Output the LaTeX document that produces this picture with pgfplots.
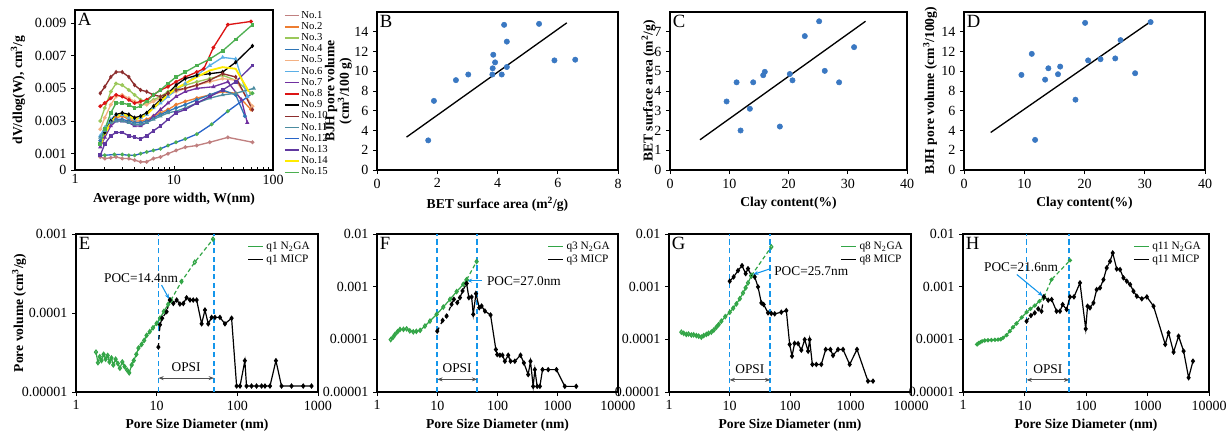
\documentclass[border=0pt]{standalone}
\usepackage{pgfplots}
\pgfplotsset{compat=1.18}
\usepackage{fontspec}
\setmainfont{Liberation Serif}
\usetikzlibrary{arrows.meta}
\definecolor{c1}{RGB}{192,128,128}
\definecolor{c2}{RGB}{237,125,49}
\definecolor{c3}{RGB}{155,200,90}
\definecolor{c4}{RGB}{46,117,182}
\definecolor{c5}{RGB}{244,177,131}
\definecolor{c6}{RGB}{91,175,230}
\definecolor{c7}{RGB}{112,48,160}
\definecolor{c8}{RGB}{220,20,20}
\definecolor{c9}{RGB}{0,0,0}
\definecolor{c10}{RGB}{140,45,45}
\definecolor{c11}{RGB}{75,140,160}
\definecolor{c12}{RGB}{40,100,200}
\definecolor{c13}{RGB}{96,56,160}
\definecolor{c14}{RGB}{255,235,0}
\definecolor{c15}{RGB}{76,175,80}
\definecolor{dotblue}{RGB}{58,120,194}
\definecolor{ngreen}{RGB}{50,165,70}
\definecolor{lblue}{RGB}{20,150,235}
\definecolor{agray}{RGB}{80,80,80}
\pgfplotsset{
  panel/.style={
    scale only axis, anchor=south west,
    axis line style={line width=0.9pt},
    every tick/.style={black, line width=0.6pt},
    tick align=outside, tick pos=left,
    major tick length=3pt, minor tick length=2pt,
    tick label style={font=\fontsize{10.5}{11}\selectfont},
    label style={font=\bfseries\fontsize{10.2}{11}\selectfont},
    /pgf/number format/assume math mode=true,
    scaled ticks=false,
  },
  dots/.style={only marks, mark=*, mark size=2pt, color=dotblue},
  trend/.style={black, line width=1pt, no marks},
  aser/.style={line width=1pt, mark size=0.9pt, mark options={solid}},
}
\newcommand{\plab}[1]{\node[anchor=north west, inner sep=2pt, font=\fontsize{14}{14}\selectfont] at (rel axis cs:0,1) {#1};}
\newcommand{\opsi}[3]{%
  \draw[color=agray, <->, >={Stealth[length=4pt]}, line width=0.6pt] (axis cs:#1,#3) -- (axis cs:#2,#3);}
\newcommand{\vl}[3]{%
  \addplot[color=lblue, dash pattern=on 4pt off 2.5pt, line width=1.3pt, no marks, forget plot] coordinates {(#1,#2)(#1,#3)};}
\begin{document}
\begin{tikzpicture}[x=0.75pt,y=0.75pt]
\useasboundingbox (0,0) rectangle (1228,433);
\coordinate (pA) at (75,263);
\coordinate (pB) at (377,263);
\coordinate (pC) at (670,263);
\coordinate (pD) at (964,263);
\coordinate (pE) at (76,41);
\coordinate (pF) at (377,41);
\coordinate (pG) at (669,41);
\coordinate (pH) at (963,41);

% ---------------- A ----------------
\begin{axis}[panel, at={(pA)}, width=148.5pt, height=120pt,
  xmode=log, xmin=1, xmax=100, ymin=0, ymax=0.0098,
  xtick={1,10,100}, xticklabels={1,10,100},
  ytick={0,0.001,0.003,0.005,0.007,0.009}, yticklabels={0,0.001,0.003,0.005,0.007,0.009},
  xtick align=inside,
  xlabel={Average pore width, W(nm)}, ylabel={dV/dlog(W), cm\textsuperscript{3}/g},
  ylabel style={at={(rel axis cs:-0.288,0.5)}, anchor=center},
  legend style={at={(1.035,1.015)}, anchor=north west, draw=none, fill=none,
    font=\fontsize{8}{8}\selectfont, row sep=0.6pt, nodes={inner ysep=0.5pt, inner xsep=1.2pt}},
  legend cell align=left,
  legend image code/.code={\draw[#1, mark=none, line width=1.1pt] (0cm,0cm) -- (0.37cm,0cm);},
]
\plab{A}
\addplot[aser, c1, mark=*] coordinates {(1.8,0.0008)(2.0,0.0007)(2.3,0.00075)(2.6,0.0008)(3.0,0.0007)(3.5,0.0007)(4.0,0.0006)(4.6,0.0005)(5.3,0.0005)(6.2,0.0007)(7.3,0.0008)(8.7,0.001)(10.5,0.0012)(13,0.0014)(17,0.0015)(23,0.0017)(35,0.002)(62,0.0017)};
\addlegendentry{No.1}
\addplot[aser, c2, mark=*] coordinates {(1.8,0.0017)(2.0,0.0024)(2.3,0.003)(2.6,0.0032)(3.0,0.0033)(3.5,0.0031)(4.0,0.003)(4.6,0.003)(5.3,0.0031)(6.2,0.0033)(7.3,0.0035)(8.7,0.0037)(10.5,0.004)(13,0.0042)(17,0.0044)(23,0.0046)(31,0.0048)(42,0.0047)(60,0.0037)};
\addlegendentry{No.2}
\addplot[aser, c3, mark=*] coordinates {(1.8,0.003)(2.0,0.0038)(2.3,0.0048)(2.6,0.0053)(3.0,0.0052)(3.5,0.0049)(4.0,0.0046)(4.6,0.0043)(5.3,0.0041)(6.2,0.0043)(7.3,0.0045)(8.7,0.0048)(10.5,0.005)(13,0.0052)(17,0.0054)(23,0.0056)(31,0.0058)(42,0.0055)(60,0.0047)};
\addlegendentry{No.3}
\addplot[aser, c4, mark=*] coordinates {(1.8,0.0018)(2.0,0.0024)(2.3,0.003)(2.6,0.0031)(3.0,0.0031)(3.5,0.003)(4.0,0.0029)(4.6,0.0029)(5.3,0.003)(6.2,0.0032)(7.3,0.0034)(8.7,0.0036)(10.5,0.0038)(13,0.004)(17,0.0043)(23,0.0046)(31,0.0049)(42,0.0046)(52,0.0033)};
\addlegendentry{No.4}
\addplot[aser, c5, mark=*] coordinates {(1.8,0.0025)(2.0,0.0032)(2.3,0.004)(2.6,0.0045)(3.0,0.0046)(3.5,0.0044)(4.0,0.0042)(4.6,0.004)(5.3,0.004)(6.2,0.0042)(7.3,0.0044)(8.7,0.0046)(10.5,0.0048)(13,0.005)(17,0.0052)(23,0.0054)(31,0.0056)(42,0.0055)(62,0.0039)};
\addlegendentry{No.5}
\addplot[aser, c6, mark=triangle*] coordinates {(1.8,0.0021)(2.0,0.0026)(2.3,0.0031)(2.6,0.0034)(3.0,0.0034)(3.5,0.0032)(4.0,0.0031)(4.6,0.0032)(5.3,0.0034)(6.2,0.0038)(7.3,0.0041)(8.7,0.0045)(10.5,0.0049)(13,0.0053)(17,0.0058)(23,0.0064)(31,0.0069)(42,0.0068)(55,0.0045)};
\addlegendentry{No.6}
\addplot[aser, c7, mark=triangle*] coordinates {(1.8,0.0014)(2.0,0.002)(2.3,0.0027)(2.6,0.003)(3.0,0.003)(3.5,0.0029)(4.0,0.0027)(4.6,0.0027)(5.3,0.0029)(6.2,0.0033)(7.3,0.0037)(8.7,0.0041)(10.5,0.0045)(13,0.0048)(17,0.005)(25,0.0051)(35,0.0054)(48,0.0043)(55,0.0029)};
\addlegendentry{No.7}
\addplot[aser, c8, mark=*] coordinates {(1.8,0.0039)(2.0,0.0041)(2.3,0.0044)(2.6,0.0046)(3.0,0.0045)(3.5,0.0043)(4.0,0.0041)(4.6,0.0042)(5.3,0.0043)(6.2,0.0046)(7.3,0.0049)(8.7,0.0051)(10.5,0.0054)(13,0.0057)(17,0.006)(20,0.0062)(25,0.0075)(35,0.0089)(60,0.0091)};
\addlegendentry{No.8}
\addplot[aser, c9, mark=diamond*] coordinates {(1.8,0.0016)(2.0,0.0023)(2.3,0.003)(2.6,0.0034)(3.0,0.0035)(3.5,0.0034)(4.0,0.0032)(4.6,0.0033)(5.3,0.0035)(6.2,0.0039)(7.3,0.0043)(8.7,0.0047)(10.5,0.0052)(13,0.0056)(17,0.0058)(23,0.0059)(31,0.006)(42,0.0066)(62,0.0076)};
\addlegendentry{No.9}
\addplot[aser, c10, mark=diamond*] coordinates {(1.8,0.0047)(2.0,0.0051)(2.3,0.0057)(2.6,0.006)(3.0,0.006)(3.5,0.0057)(4.0,0.0052)(4.6,0.0049)(5.3,0.0048)(6.2,0.0046)(7.3,0.0045)(8.7,0.0047)(10.5,0.0049)(13,0.005)(17,0.0052)(23,0.0055)(31,0.0059)(42,0.0057)(62,0.0037)};
\addlegendentry{No.10}
\addplot[aser, c11, mark=triangle*] coordinates {(1.8,0.002)(2.0,0.0024)(2.3,0.0029)(2.6,0.003)(3.0,0.003)(3.5,0.0029)(4.0,0.0028)(4.6,0.0028)(5.3,0.0029)(6.2,0.0031)(7.3,0.0033)(8.7,0.0035)(10.5,0.0036)(13,0.0038)(17,0.0041)(23,0.0044)(31,0.0046)(42,0.0047)(64,0.005)};
\addlegendentry{No.11}
\addplot[aser, c12, mark=*, mark options={fill=c15, draw=c15}] coordinates {(1.8,0.0009)(2.0,0.0009)(2.5,0.00095)(3.0,0.00095)(3.5,0.0009)(4.0,0.0009)(4.6,0.001)(5.3,0.0011)(6.2,0.0012)(7.3,0.0013)(8.7,0.0015)(10.5,0.0017)(13,0.0019)(17,0.0022)(24,0.0028)(35,0.0036)(62,0.0047)};
\addlegendentry{No.12}
\addplot[aser, c13, mark=square*] coordinates {(1.8,0.0009)(2.0,0.0016)(2.3,0.0021)(2.6,0.0023)(3.0,0.0023)(3.5,0.0021)(4.0,0.002)(4.6,0.0019)(5.3,0.0021)(6.2,0.0024)(7.3,0.0027)(8.7,0.0031)(10.5,0.0035)(13,0.0037)(17,0.0041)(23,0.0045)(31,0.0049)(42,0.0054)(62,0.0064)};
\addlegendentry{No.13}
\addplot[aser, c14, line width=1.4pt, mark=none] coordinates {(1.8,0.0015)(2.0,0.0022)(2.3,0.0029)(2.6,0.0033)(3.0,0.0034)(3.5,0.0033)(4.0,0.0031)(4.6,0.0032)(5.3,0.0034)(6.2,0.0038)(7.3,0.0042)(8.7,0.0046)(10.5,0.005)(13,0.0053)(17,0.0057)(23,0.0061)(31,0.0063)(42,0.0062)(57,0.0048)};
\addlegendentry{No.14}
\addplot[aser, c15, mark=square*] coordinates {(1.8,0.0016)(2.0,0.0025)(2.3,0.0035)(2.6,0.0041)(3.0,0.0041)(3.5,0.004)(4.0,0.0038)(4.6,0.0039)(5.3,0.0042)(6.2,0.0046)(7.3,0.0049)(8.7,0.0053)(10.5,0.0057)(13,0.006)(17,0.0064)(23,0.0068)(31,0.0073)(42,0.008)(62,0.0089)};
\addlegendentry{No.15}
\end{axis}

% ---------------- B ----------------
\begin{axis}[panel, at={(pB)}, width=180.75pt, height=118.5pt, xmin=0, xmax=8, ymin=0, ymax=16,
  xtick={0,2,4,6,8}, ytick={0,2,4,6,8,10,12,14},
  xlabel={BET surface area (m\textsuperscript{2}/g)},
  ylabel={BJH pore volume\\(cm\textsuperscript{3}/100 g)},
  ylabel style={align=center, at={(rel axis cs:-0.16,0.5)}, anchor=center}]
\plab{B}
\addplot[dots] coordinates {(1.70,3.0)(1.89,7.0)(2.62,9.1)(3.03,9.67)(3.83,9.67)(3.84,10.3)(3.86,11.67)(3.92,10.9)(4.14,9.67)(4.31,10.43)(4.22,14.7)(4.31,13.0)(5.38,14.8)(5.89,11.1)(6.58,11.17)};
\addplot[trend] coordinates {(0.98,3.33)(6.3,14.9)};
\end{axis}

% ---------------- C ----------------
\begin{axis}[panel, at={(pC)}, width=177.75pt, height=118.5pt, xmin=0, xmax=40, ymin=0, ymax=8,
  xtick={0,10,20,30,40}, ytick={0,1,2,3,4,5,6,7},
  xlabel={Clay content(\%)}, ylabel={BET surface area (m\textsuperscript{2}/g)},
  ylabel style={at={(rel axis cs:-0.09,0.5)}, anchor=center}]
\plab{C}
\addplot[dots] coordinates {(9.55,3.47)(11.24,4.44)(11.91,2.0)(13.48,3.1)(14.04,4.44)(15.73,4.8)(16.0,4.97)(18.54,2.2)(20.22,4.86)(20.67,4.54)(22.75,6.78)(25.17,7.53)(26.12,5.02)(28.54,4.44)(31.07,6.22)};
\addplot[trend] coordinates {(5.06,1.53)(33.0,7.53)};
\end{axis}

% ---------------- D ----------------
\begin{axis}[panel, at={(pD)}, width=180.75pt, height=118.5pt, xmin=0, xmax=40, ymin=0, ymax=16,
  xtick={0,10,20,30,40}, ytick={0,2,4,6,8,10,12,14},
  xlabel={Clay content(\%)}, ylabel={BJH pore volume (cm\textsuperscript{3}/100g)},
  ylabel style={at={(rel axis cs:-0.141,0.5)}, anchor=center}]
\plab{D}
\addplot[dots] coordinates {(9.53,9.63)(11.25,11.76)(11.8,3.05)(13.46,9.15)(14.0,10.3)(15.6,9.7)(15.96,10.47)(18.5,7.12)(20.1,14.9)(20.6,11.1)(22.66,11.22)(25.1,11.3)(25.98,13.15)(28.4,9.8)(30.97,14.98)};
\addplot[trend] coordinates {(4.43,3.8)(30.86,14.98)};
\end{axis}

% ---------------- E ----------------
\begin{axis}[panel, at={(pE)}, width=181.5pt, height=118.5pt,
  xmode=log, ymode=log, xmin=1, xmax=1000, ymin=1e-5, ymax=1e-3,
  ytick={1e-5,1e-4,1e-3}, yticklabels={0.00001,0.0001,0.001},
  xtick={1,10,100,1000}, xticklabels={1,10,100,1000},
  xminorticks=false, yminorticks=false,
  xlabel={Pore Size Diameter (nm)}, ylabel={Pore volume (cm\textsuperscript{3}/g)},
  ylabel style={at={(rel axis cs:-0.235,0.5)}, anchor=center},
  legend style={at={(0.995,0.985)}, anchor=north east, draw=none, fill=none,
      font=\fontsize{8.5}{9}\selectfont, row sep=-1.5pt},
  legend cell align=left,
  legend image code/.code={\draw[mark repeat=2,mark phase=2,#1] (0cm,0cm) -- (0.2cm,0cm) -- (0.4cm,0cm);},
]
\plab{E}
\vl{10.5}{1e-5}{1e-3}
\vl{51.3}{1e-5}{1e-3}
\addplot[color=ngreen, line width=0.9pt, mark=diamond, mark size=1.5pt, mark options={solid, fill=white}] coordinates {(1.77,3.2e-5)(1.87,2.35e-5)(1.97,2.8e-5)(2.07,2.5e-5)(2.2,3.0e-5)(2.33,2.6e-5)(2.47,2.9e-5)(2.6,2.4e-5)(2.75,2.7e-5)(2.9,2.2e-5)(3.1,2.6e-5)(3.3,2.3e-5)(3.5,2.0e-5)(3.75,2.4e-5)(4.0,2.1e-5)(4.3,1.9e-5)(4.57,1.75e-5)(4.9,2.2e-5)(5.2,2.5e-5)(5.6,3.0e-5)(5.95,3.6e-5)(6.5,4.0e-5)(7.0,4.5e-5)(7.5,5.2e-5)(8.2,5.8e-5)(9.0,6.5e-5)(10.0,7.4e-5)(11.0,8.6e-5)(12.3,1.05e-4)(13.9,1.29e-4)(15.0,1.45e-4)};
\addlegendentry{q1 N\textsubscript{2}GA}
\addplot[color=black, line width=0.9pt, mark=diamond*, mark size=1.4pt, mark options={solid}] coordinates {(14.6,1.46e-4)(16.1,1.32e-4)(17.7,1.46e-4)(19.4,1.3e-4)(21.4,1.32e-4)(23.5,1.56e-4)(25.9,1.46e-4)(28.4,1.46e-4)(31.3,1.46e-4)(36.1,7.3e-5)(39.7,1.09e-4)(43.6,7.3e-5)(48,8.8e-5)(52.8,8.8e-5)(60.9,8.8e-5)(70.2,7.3e-5)(84.9,8.6e-5)(98,1.19e-5)(108,1.19e-5)(124,2.49e-5)(130,1.19e-5)(150,1.19e-5)(173,1.19e-5)(200,1.19e-5)(220,1.19e-5)(254,1.19e-5)(301,2.49e-5)(353,1.19e-5)(470,1.19e-5)(656,1.19e-5)(832,1.19e-5)};
\addlegendentry{q1 MICP}
\addplot[color=ngreen, line width=0.9pt, mark=diamond, mark size=1.5pt, mark options={solid, fill=white}, densely dashed, forget plot] coordinates {(15.0,1.45e-4)(20.3,2.5e-4)(29.7,4.4e-4)(50,8.6e-4)};
\addplot[color=black, line width=0.9pt, mark=diamond*, mark size=1.4pt, mark options={solid}, dashed, forget plot] coordinates {(10.5,3.7e-5)(11.0,7.1e-5)(11.7,8.6e-5)(13.3,1.04e-4)(14.6,1.46e-4)};
\opsi{10.5}{51.3}{1.5e-5}
\node[font=\fontsize{10}{10}\selectfont, anchor=south] at (axis cs:23.2,1.6e-5) {OPSI};
\node[font=\fontsize{10}{10}\selectfont] at (axis cs:6.4,2.75e-4) {POC=14.4nm};
\draw[color=lblue, ->, >={Stealth[length=4pt]}, line width=0.8pt] (axis cs:11.5,2.26e-4) -- (axis cs:14.3,1.5e-4);
\end{axis}

% ---------------- F ----------------
\begin{axis}[panel, at={(pF)}, width=180.75pt, height=118.5pt,
  xmode=log, ymode=log, xmin=1, xmax=10000, ymin=1e-5, ymax=1e-2,
  ytick={1e-5,1e-4,1e-3,1e-2}, yticklabels={0.00001,0.0001,0.001,0.01},
  xtick={1,10,100,1000,10000}, xticklabels={1,10,100,1000,10000},
  xminorticks=false, yminorticks=false,
  xlabel={Pore Size Diameter (nm)},
  legend style={at={(0.995,0.985)}, anchor=north east, draw=none, fill=none,
      font=\fontsize{8.5}{9}\selectfont, row sep=-1.5pt},
  legend cell align=left,
  legend image code/.code={\draw[mark repeat=2,mark phase=2,#1] (0cm,0cm) -- (0.2cm,0cm) -- (0.4cm,0cm);},
]
\plab{F}
\vl{10}{1e-5}{1e-2}
\vl{46}{1e-5}{1e-2}
\addplot[color=ngreen, line width=0.9pt, mark=diamond, mark size=1.5pt, mark options={solid, fill=white}] coordinates {(1.69,9.9e-5)(1.85,1.1e-4)(1.99,1.24e-4)(2.2,1.4e-4)(2.41,1.54e-4)(2.75,1.55e-4)(3.1,1.58e-4)(3.5,1.45e-4)(4.0,1.39e-4)(4.5,1.42e-4)(5.2,1.48e-4)(6.25,1.79e-4)(7.57,2.22e-4)(9.77,2.98e-4)(12.6,4.1e-4)(16.3,5.75e-4)(21,8.07e-4)(27.1,1.11e-3)(30.7,1.35e-3)};
\addlegendentry{q3 N\textsubscript{2}GA}
\addplot[color=black, line width=0.9pt, mark=diamond*, mark size=1.4pt, mark options={solid}] coordinates {(30.7,1.15e-3)(33.5,6.19e-4)(37.2,6.38e-4)(39.6,2.98e-4)(43.9,7.38e-4)(49.8,3.99e-4)(54.4,4.29e-4)(61.8,3.45e-4)(76.7,2.9e-4)(94,6.4e-5)(98.9,5.14e-5)(109.6,5.0e-5)(121,5.0e-5)(132.6,3.84e-5)(150.6,5.0e-5)(164.6,3.84e-5)(194,3.84e-5)(241,5.0e-5)(274,3.57e-5)(323,2.14e-5)(353,3.84e-5)(391,1.28e-5)(417,2.66e-5)(456,1.28e-5)(505,1.28e-5)(559,2.66e-5)(694,2.66e-5)(953,2.66e-5)(1310,1.28e-5)(2024,1.28e-5)};
\addlegendentry{q3 MICP}
\addplot[color=ngreen, line width=0.9pt, mark=diamond, mark size=1.5pt, mark options={solid, fill=white}, densely dashed, forget plot] coordinates {(30.7,1.35e-3)(45,3.0e-3)};
\addplot[color=black, line width=0.9pt, mark=diamond*, mark size=1.4pt, mark options={solid}, dashed, forget plot] coordinates {(10,1.43e-4)(12.3,2.29e-4)(14.3,2.77e-4)(17.3,4.62e-4)(18.9,5.76e-4)(21.5,4.97e-4)(23.8,6.19e-4)(26.3,8.3e-4)(30.7,1.15e-3)};
\opsi{10}{46}{1.74e-5}
\node[font=\fontsize{10}{10}\selectfont, anchor=south] at (axis cs:21.4,1.9e-5) {OPSI};
\node[font=\fontsize{10}{10}\selectfont, anchor=west] at (axis cs:56,1.3e-3) {POC=27.0nm};
\draw[color=lblue, ->, >={Stealth[length=4pt]}, line width=0.8pt] (axis cs:55,1.3e-3) -- (axis cs:31,1.3e-3);
\end{axis}

% ---------------- G ----------------
\begin{axis}[panel, at={(pG)}, width=181.5pt, height=118.5pt,
  xmode=log, ymode=log, xmin=1, xmax=10000, ymin=1e-5, ymax=1e-2,
  ytick={1e-5,1e-4,1e-3,1e-2}, yticklabels={0.00001,0.0001,0.001,0.01},
  xtick={1,10,100,1000,10000}, xticklabels={1,10,100,1000,10000},
  xminorticks=false, yminorticks=false,
  xlabel={Pore Size Diameter (nm)},
  legend style={at={(0.995,0.985)}, anchor=north east, draw=none, fill=none,
      font=\fontsize{8.5}{9}\selectfont, row sep=-1.5pt},
  legend cell align=left,
  legend image code/.code={\draw[mark repeat=2,mark phase=2,#1] (0cm,0cm) -- (0.2cm,0cm) -- (0.4cm,0cm);},
]
\plab{G}
\vl{10}{1e-5}{1e-2}
\vl{47.3}{1e-5}{1e-2}
\addplot[color=ngreen, line width=0.9pt, mark=diamond, mark size=1.5pt, mark options={solid, fill=white}] coordinates {(1.6,1.37e-4)(1.75,1.3e-4)(1.93,1.24e-4)(2.1,1.26e-4)(2.34,1.21e-4)(2.55,1.22e-4)(2.83,1.18e-4)(3.1,1.15e-4)(3.42,1.1e-4)(3.75,1.18e-4)(4.14,1.24e-4)(4.5,1.3e-4)(5.0,1.37e-4)(5.5,1.5e-4)(6.06,1.7e-4)(6.6,1.9e-4)(7.33,2.21e-4)(8.5,2.7e-4)(10.1,3.27e-4)(11.5,3.9e-4)(13,4.71e-4)(14.8,5.9e-4)(16.7,7.6e-4)(18.5,9.5e-4)(20.2,1.18e-3)(23,1.62e-3)};
\addlegendentry{q8 N\textsubscript{2}GA}
\addplot[color=black, line width=0.9pt, mark=diamond*, mark size=1.4pt, mark options={solid}] coordinates {(10.07,1.27e-3)(11.7,1.53e-3)(13.8,2.02e-3)(16.1,2.51e-3)(18.5,1.77e-3)(20.2,2.2e-3)(23,1.62e-3)(26.1,1.53e-3)(29.6,9.9e-4)(33.6,4.92e-4)(36.7,4.58e-4)(43.3,3.18e-4)(49,3.1e-4)(55.8,3.05e-4)(71.9,3.28e-4)(86.9,3.52e-4)(98.7,8.0e-5)(108,4.8e-5)(119,8.4e-5)(136,8.3e-5)(154,6.24e-5)(175,9.9e-5)(199,5.97e-5)(211,9.9e-5)(234,3.34e-5)(272,3.34e-5)(329,3.34e-5)(389,6.43e-5)(465,6.43e-5)(514,4.94e-5)(622,6.43e-5)(752,6.43e-5)(968,3.34e-5)(1280,6.43e-5)(1944,1.61e-5)(2354,1.61e-5)};
\addlegendentry{q8 MICP}
\addplot[color=ngreen, line width=0.9pt, mark=diamond, mark size=1.5pt, mark options={solid, fill=white}, densely dashed, forget plot] coordinates {(23,1.62e-3)(49.1,5.7e-3)};
\opsi{10}{47.3}{1.7e-5}
\node[font=\fontsize{10}{10}\selectfont, anchor=south] at (axis cs:21.7,1.85e-5) {OPSI};
\node[font=\fontsize{10}{10}\selectfont, anchor=west] at (axis cs:46,2.0e-3) {POC=25.7nm};
\draw[color=lblue, ->, >={Stealth[length=4pt]}, line width=0.8pt] (axis cs:45,2.15e-3) -- (axis cs:24.5,1.7e-3);
\end{axis}

% ---------------- H ----------------
\begin{axis}[panel, at={(pH)}, width=184.5pt, height=118.5pt,
  xmode=log, ymode=log, xmin=1, xmax=10000, ymin=1e-5, ymax=1e-2,
  ytick={1e-5,1e-4,1e-3,1e-2}, yticklabels={0.00001,0.0001,0.001,0.01},
  xtick={1,10,100,1000,10000}, xticklabels={1,10,100,1000,10000},
  xminorticks=false, yminorticks=false,
  xlabel={Pore Size Diameter (nm)},
  legend style={at={(0.995,0.985)}, anchor=north east, draw=none, fill=none,
      font=\fontsize{8.5}{9}\selectfont, row sep=-1.5pt},
  legend cell align=left,
  legend image code/.code={\draw[mark repeat=2,mark phase=2,#1] (0cm,0cm) -- (0.2cm,0cm) -- (0.4cm,0cm);},
]
\plab{H}
\vl{10.8}{1e-5}{1e-2}
\vl{53.5}{1e-5}{1e-2}
\addplot[color=ngreen, line width=0.9pt, mark=*, mark size=1.1pt, mark options={solid, fill=ngreen}] coordinates {(1.69,8.0e-5)(1.8,8.5e-5)(1.92,8.85e-5)(2.05,9.2e-5)(2.26,9.5e-5)(2.55,9.6e-5)(2.9,9.7e-5)(3.3,9.8e-5)(3.72,9.9e-5)(4.1,1.0e-4)(4.49,1.07e-4)(5.1,1.2e-4)(5.76,1.43e-4)(6.5,1.7e-4)(7.41,2.0e-4)(9,2.6e-4)(10.8,3.27e-4)(12.5,3.8e-4)(14.7,4.38e-4)(17.5,5.3e-4)(20.7,6.3e-4)};
\addlegendentry{q11 N\textsubscript{2}GA}
\addplot[color=black, line width=0.9pt, mark=diamond*, mark size=1.4pt, mark options={solid}] coordinates {(20.7,6.4e-4)(24.3,5.53e-4)(27.6,5.7e-4)(33.2,3.42e-4)(37.7,3.42e-4)(41.7,4.58e-4)(48.4,3.68e-4)(54.8,6.4e-4)(63.7,6.4e-4)(79.8,1.18e-3)(98.9,1.58e-4)(106,4.26e-4)(116,3.96e-4)(132,4.92e-4)(149,8.8e-4)(169,9.5e-4)(192,1.36e-3)(217,2.27e-3)(246,3.03e-3)(272,4.37e-3)(316,2.17e-3)(358,2.11e-3)(406,1.47e-3)(460,1.27e-3)(521,1.1e-3)(591,8.2e-4)(670,6.6e-4)(808,5.87e-4)(976,6.4e-4)(1253,4.26e-4)(1942,8.0e-5)(2199,1.33e-4)(2653,5.72e-5)(3200,1.15e-4)(3863,5.97e-5)(4660,1.87e-5)(5483,3.86e-5)};
\addlegendentry{q11 MICP}
\addplot[color=ngreen, line width=0.9pt, mark=*, mark size=1.1pt, mark options={solid, fill=ngreen}, densely dashed, forget plot] coordinates {(20.7,6.3e-4)(27.5,1.36e-3)(54.8,3.16e-3)};
\addplot[color=black, line width=0.9pt, mark=diamond*, mark size=1.4pt, mark options={solid}, dashed, forget plot] coordinates {(10.8,2.21e-4)(12.7,2.83e-4)(14.7,3.18e-4)(16.7,3.79e-4)(18.9,3.42e-4)(20.7,6.4e-4)};
\opsi{10.8}{53.5}{1.7e-5}
\node[font=\fontsize{10}{10}\selectfont, anchor=south] at (axis cs:24,1.85e-5) {OPSI};
\node[font=\fontsize{10}{10}\selectfont, anchor=west] at (axis cs:1.85,2.3e-3) {POC=21.6nm};
\draw[color=lblue, ->, >={Stealth[length=4pt]}, line width=0.8pt] (axis cs:7.5,1.7e-3) -- (axis cs:20,6.6e-4);
\end{axis}
\end{tikzpicture}
\end{document}
